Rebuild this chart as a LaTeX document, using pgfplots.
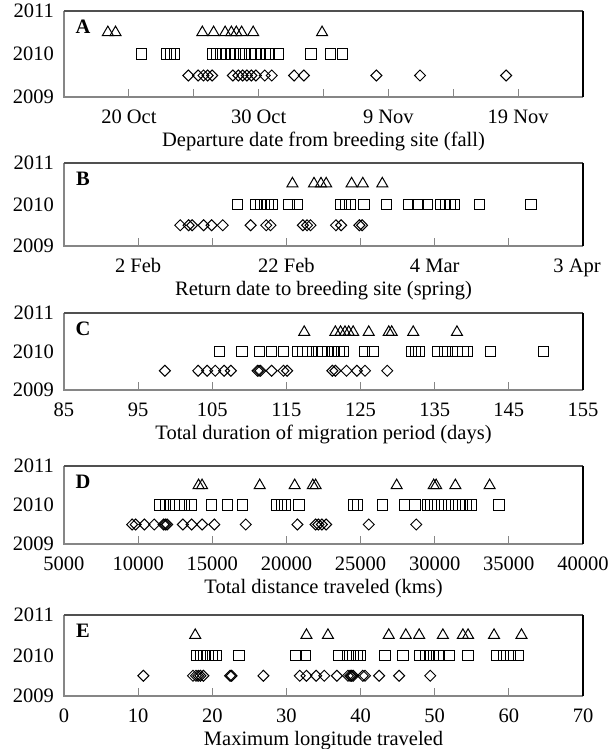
\documentclass[border=0pt]{standalone}
\usepackage{fontspec}
\setmainfont{Liberation Serif}
\usepackage{pgfplots}
\pgfplotsset{compat=1.18}
\definecolor{axgray}{RGB}{134,134,134}
\definecolor{topgray}{RGB}{80,80,80}
\newcommand{\panelframe}{%
  \draw[axgray, line width=0.6pt] (rel axis cs:1,0) -- (rel axis cs:0,0) -- (rel axis cs:0,1);
  \draw[topgray, line width=0.6pt] (rel axis cs:0,1) -- (rel axis cs:1,1);
  \draw[black, line width=0.7pt] (rel axis cs:1,0) -- (rel axis cs:1,1);
}
\newcommand{\panelletter}[1]{%
  \node[font=\fontsize{10.25}{12}\selectfont\bfseries, anchor=center] at ([xshift=9.5pt,yshift=-7.75pt]rel axis cs:0,1) {#1};
}
\pgfplotsset{
  panel/.style={
    scale only axis, width=259.5pt, anchor=north west,
    ymin=2009, ymax=2011, ytick={2009,2010,2011},
    axis line style={draw=none},
    major tick length=4pt,
    xtick style={axgray, line width=0.5pt},
    ytick style={draw=none},
    tick align=inside,
    xtick pos=bottom, ytick pos=left,
    minor tick num=0,
    tick label style={font=\fontsize{10.25}{12}\selectfont},
    label style={font=\fontsize{10.25}{12}\selectfont},
    yticklabel style={xshift=-1.5pt},
    xticklabel style={anchor=base, yshift=-13pt},
    /pgf/number format/assume math mode=true,
    /pgf/number format/1000 sep={},
    scaled x ticks=false, scaled y ticks=false,
    clip=false,
    xlabel style={at={(axis description cs:0.5,0)}, anchor=base, yshift=-24.5pt},
  },
  tri/.style={only marks, mark=triangle, mark size=3.2pt, mark options={solid, black, line width=0.5pt}},
  sqr/.style={only marks, mark=square, mark size=2.6pt, mark options={solid, black, line width=0.5pt}},
  dia/.style={only marks, mark=diamond, mark size=2.75pt, mark options={solid, black, line width=0.5pt, xscale=1.33}},
}
\begin{document}
\begin{tikzpicture}
\useasboundingbox (0,0) rectangle (305.5pt,-374.5pt);
% ---------------- A ----------------
\begin{axis}[panel, at={(32pt,-5.5pt)}, height=43pt,
  xmin=-5, xmax=35, xtick={0,5,...,30},
  xticklabels={20 Oct,,30 Oct,,9 Nov,,19 Nov},
  xlabel={Departure date from breeding site (fall)}]
\addplot[tri] coordinates {(-1.62,2010.5)(-1.03,2010.5)(5.66,2010.5)(6.53,2010.5)(7.42,2010.5)(7.90,2010.5)(8.28,2010.5)(8.69,2010.5)(9.58,2010.5)(14.89,2010.5)};
\addplot[sqr] coordinates {(0.97,2010)(2.89,2010)(3.21,2010)(3.53,2010)(6.45,2010)(6.77,2010)(7.09,2010)(7.45,2010)(7.82,2010)(8.17,2010)(8.52,2010)(8.88,2010)(9.44,2010)(9.79,2010)(10.14,2010)(10.52,2010)(10.82,2010)(11.52,2010)(14.05,2010)(15.54,2010)(16.48,2010)};
\addplot[dia] coordinates {(4.59,2009.5)(5.34,2009.5)(5.75,2009.5)(6.07,2009.5)(6.42,2009.5)(8.01,2009.5)(8.44,2009.5)(8.77,2009.5)(9.09,2009.5)(9.44,2009.5)(9.79,2009.5)(10.47,2009.5)(11.01,2009.5)(12.73,2009.5)(13.49,2009.5)(19.07,2009.5)(22.44,2009.5)(29.08,2009.5)};
\panelframe
\panelletter{A}
\end{axis}
% ---------------- B ----------------
\begin{axis}[panel, at={(32pt,-81.5pt)}, height=41.5pt,
  xmin=-10, xmax=60, xtick={0,10,...,50},
  xticklabels={2 Feb,,22 Feb,,4 Mar,},
  extra x ticks={60}, extra x tick labels={3 Apr},
  extra x tick style={xticklabel style={xshift=-3pt}},
  xlabel={Return date to breeding site (spring)}]
\addplot[tri] coordinates {(20.81,2010.5)(23.72,2010.5)(24.66,2010.5)(25.36,2010.5)(28.79,2010.5)(30.30,2010.5)(32.93,2010.5)};
\addplot[sqr] coordinates {(13.43,2010)(15.92,2010)(16.49,2010)(17.05,2010)(17.52,2010)(18.04,2010)(20.34,2010)(21.51,2010)(27.38,2010)(27.95,2010)(28.56,2010)(30.48,2010)(33.49,2010)(36.45,2010)(37.72,2010)(38.99,2010)(40.77,2010)(41.48,2010)(42.04,2010)(42.65,2010)(46.08,2010)(52.98,2010)};
\addplot[dia] coordinates {(5.68,2009.5)(6.81,2009.5)(7.28,2009.5)(8.83,2009.5)(9.91,2009.5)(11.41,2009.5)(15.17,2009.5)(17.28,2009.5)(17.85,2009.5)(22.22,2009.5)(22.78,2009.5)(23.25,2009.5)(26.68,2009.5)(27.38,2009.5)(29.83,2009.5)(30.20,2009.5)};
\panelframe
\panelletter{B}
\end{axis}
% ---------------- C ----------------
\begin{axis}[panel, at={(32pt,-156.5pt)}, height=38.5pt,
  xmin=85, xmax=155, xtick={85,95,...,155},
  xlabel={Total duration of migration period (days)}]
\addplot[tri] coordinates {(117.4,2010.5)(121.6,2010.5)(122.3,2010.5)(122.9,2010.5)(123.4,2010.5)(124.0,2010.5)(126.1,2010.5)(128.8,2010.5)(129.2,2010.5)(132.1,2010.5)(138.0,2010.5)};
\addplot[sqr] coordinates {(106.0,2010)(109.0,2010)(111.4,2010)(113.0,2010)(114.6,2010)(116.5,2010)(117.2,2010)(117.9,2010)(118.5,2010)(119.1,2010)(119.8,2010)(120.5,2010)(121.1,2010)(121.5,2010)(122.1,2010)(122.7,2010)(125.5,2010)(126.7,2010)(131.9,2010)(132.4,2010)(132.9,2010)(135.4,2010)(136.4,2010)(137.4,2010)(138.1,2010)(138.8,2010)(139.4,2010)(142.5,2010)(149.7,2010)};
\addplot[dia] coordinates {(98.6,2009.5)(103.1,2009.5)(104.3,2009.5)(105.4,2009.5)(106.6,2009.5)(107.5,2009.5)(111.1,2009.5)(111.3,2009.5)(111.5,2009.5)(113.0,2009.5)(114.6,2009.5)(115.1,2009.5)(121.2,2009.5)(121.6,2009.5)(123.1,2009.5)(124.5,2009.5)(125.6,2009.5)(128.6,2009.5)};
\panelframe
\panelletter{C}
\end{axis}
% ---------------- D ----------------
\begin{axis}[panel, at={(32pt,-233pt)}, height=39pt,
  xmin=5000, xmax=40000, xtick={5000,10000,...,40000},
  xlabel={Total distance traveled (kms)}]
\addplot[tri] coordinates {(14076,2010.5)(14311,2010.5)(18199,2010.5)(20555,2010.5)(21780,2010.5)(21968,2010.5)(27434,2010.5)(29932,2010.5)(30097,2010.5)(31393,2010.5)(33702,2010.5)};
\addplot[sqr] coordinates {(11484,2010)(11838,2010)(12120,2010)(12427,2010)(12780,2010)(13133,2010)(13605,2010)(14948,2010)(16031,2010)(17021,2010)(19377,2010)(19660,2010)(19895,2010)(20861,2010)(24513,2010)(24796,2010)(26492,2010)(27977,2010)(28683,2010)(29508,2010)(29743,2010)(29979,2010)(30214,2010)(30450,2010)(30686,2010)(30921,2010)(31157,2010)(31393,2010)(31628,2010)(31864,2010)(32100,2010)(32453,2010)(34337,2010)};
\addplot[dia] coordinates {(9599,2009.5)(9835,2009.5)(10424,2009.5)(11084,2009.5)(11720,2009.5)(11838,2009.5)(11955,2009.5)(13016,2009.5)(13605,2009.5)(14311,2009.5)(15136,2009.5)(17256,2009.5)(20743,2009.5)(21968,2009.5)(22157,2009.5)(22393,2009.5)(22676,2009.5)(25550,2009.5)(28754,2009.5)};
\panelframe
\panelletter{D}
\end{axis}
% ---------------- E ----------------
\begin{axis}[panel, at={(32pt,-307.5pt)}, height=40.5pt,
  xmin=0, xmax=70, xtick={0,10,...,70},
  xlabel={Maximum longitude traveled}]
\addplot[tri] coordinates {(17.7,2010.5)(32.7,2010.5)(35.6,2010.5)(43.8,2010.5)(46.1,2010.5)(47.9,2010.5)(51.1,2010.5)(53.8,2010.5)(54.5,2010.5)(58.0,2010.5)(61.7,2010.5)};
\addplot[sqr] coordinates {(17.9,2010)(18.4,2010)(18.9,2010)(19.4,2010)(20.0,2010)(20.5,2010)(23.6,2010)(31.3,2010)(32.6,2010)(37.1,2010)(38.3,2010)(39.0,2010)(39.5,2010)(40.0,2010)(43.3,2010)(45.7,2010)(48.0,2010)(48.8,2010)(49.3,2010)(49.8,2010)(50.5,2010)(52.0,2010)(54.5,2010)(58.3,2010)(59.3,2010)(60.2,2010)(61.3,2010)};
\addplot[dia] coordinates {(10.7,2009.5)(17.4,2009.5)(17.8,2009.5)(18.1,2009.5)(18.4,2009.5)(18.8,2009.5)(22.4,2009.5)(22.6,2009.5)(26.9,2009.5)(31.8,2009.5)(32.7,2009.5)(34.0,2009.5)(35.1,2009.5)(36.8,2009.5)(38.3,2009.5)(38.6,2009.5)(38.8,2009.5)(39.0,2009.5)(40.3,2009.5)(40.6,2009.5)(42.5,2009.5)(45.2,2009.5)(49.4,2009.5)};
\panelframe
\panelletter{E}
\end{axis}
\end{tikzpicture}
\end{document}
